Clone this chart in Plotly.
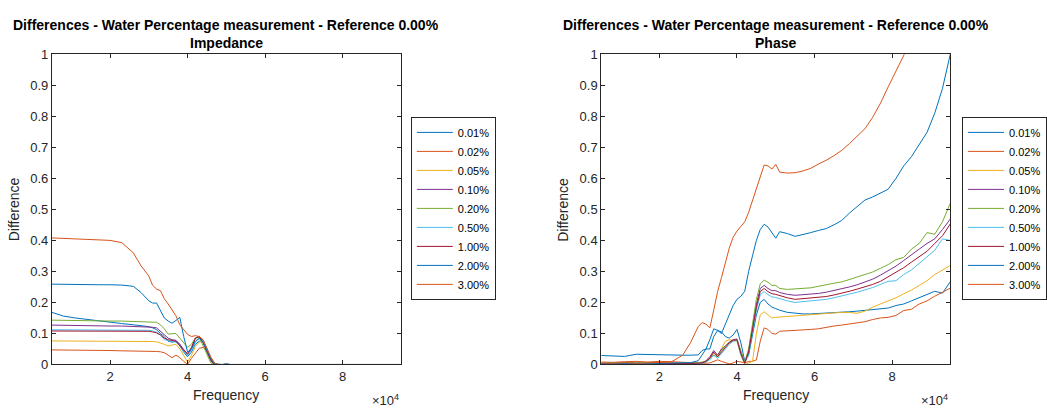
import plotly.graph_objects as go

freq = [5000, 8000, 11000, 14000, 17000, 20000, 23000, 26000, 28000,
        30000, 31000, 32000, 33000, 34000, 35000, 36000, 37000, 38000, 39000,
        40000, 41000, 42000, 43000, 44000, 45000, 46000, 47000, 48000, 49000,
        50000, 51000, 53000, 55000, 57000, 59000, 61000, 63000, 65000, 67000,
        69000, 71000, 73000, 75000, 77000, 79000, 81000, 83000, 85000, 87000,
        89000, 91000, 93000, 95000]

labels = ["0.01%", "0.02%", "0.05%", "0.10%", "0.20%", "0.50%", "1.00%", "2.00%", "3.00%"]
colors = ["#0072BD", "#D95319", "#EDB120", "#7E2F8E", "#77AC30", "#4DBEEE", "#A2142F", "#0072BD", "#D95319"]

Z26 = [0.0] * 26  # 48k .. 95k (26 points)

# ---------------- Impedance ----------------
imp_001 = [0.168, 0.156, 0.150, 0.145, 0.140, 0.137, 0.132, 0.128, 0.125,
           0.122, 0.118, 0.112, 0.100, 0.090, 0.075, 0.072, 0.075, 0.065, 0.040,
           0.025, 0.040, 0.065, 0.075, 0.075, 0.050, 0.020, 0.003,
           0.0, 0.0, 0.003, 0.0] + [0.0] * 22
imp_002 = [0.047, 0.047, 0.046, 0.046, 0.045, 0.045, 0.044, 0.044, 0.043,
           0.043, 0.043, 0.042, 0.041, 0.038, 0.030, 0.022, 0.030, 0.022, 0.010,
           0.000, 0.020, 0.035, 0.052, 0.055, 0.045, 0.020, 0.0] + Z26
imp_005 = [0.076, 0.076, 0.076, 0.075, 0.075, 0.075, 0.075, 0.074, 0.074,
           0.074, 0.074, 0.073, 0.070, 0.065, 0.060, 0.062, 0.065, 0.050, 0.030,
           0.008, 0.030, 0.058, 0.072, 0.075, 0.050, 0.010, 0.0] + Z26
imp_010 = [0.127, 0.126, 0.126, 0.125, 0.125, 0.124, 0.124, 0.123, 0.123,
           0.122, 0.120, 0.118, 0.108, 0.095, 0.085, 0.080, 0.078, 0.065, 0.048,
           0.032, 0.050, 0.085, 0.091, 0.070, 0.040, 0.012, 0.0] + Z26
imp_020 = [0.143, 0.142, 0.142, 0.141, 0.141, 0.140, 0.140, 0.139, 0.139,
           0.138, 0.137, 0.136, 0.128, 0.115, 0.098, 0.100, 0.100, 0.085, 0.070,
           0.055, 0.065, 0.085, 0.088, 0.060, 0.030, 0.005, 0.0] + Z26
imp_050 = [0.112, 0.112, 0.112, 0.111, 0.111, 0.111, 0.111, 0.110, 0.110,
           0.110, 0.108, 0.104, 0.097, 0.080, 0.077, 0.075, 0.072, 0.060, 0.040,
           0.030, 0.045, 0.072, 0.083, 0.078, 0.050, 0.020, 0.0] + Z26
imp_100 = [0.108, 0.108, 0.108, 0.108, 0.108, 0.108, 0.108, 0.107, 0.107,
           0.107, 0.105, 0.102, 0.095, 0.085, 0.080, 0.078, 0.075, 0.060, 0.045,
           0.035, 0.055, 0.085, 0.090, 0.072, 0.045, 0.015, 0.0] + Z26
imp_200 = [0.259, 0.258, 0.258, 0.257, 0.257, 0.257, 0.256, 0.252, 0.232,
           0.205, 0.198, 0.198, 0.175, 0.150, 0.140, 0.133, 0.142, 0.152, 0.090,
           0.040, 0.050, 0.075, 0.085, 0.072, 0.045, 0.018, 0.002] + Z26
imp_300 = [0.408, 0.406, 0.404, 0.403, 0.401, 0.400, 0.393, 0.360, 0.318,
           0.285, 0.255, 0.243, 0.238, 0.212, 0.195, 0.176, 0.157, 0.128, 0.112,
           0.097, 0.090, 0.093, 0.090, 0.080, 0.052, 0.024, 0.004] + Z26

# ---------------- Phase ----------------
ph_001 = [0.029, 0.028, 0.026, 0.033, 0.032, 0.030, 0.030, 0.030, 0.030,
          0.031, 0.045, 0.050, 0.080, 0.115, 0.110, 0.105, 0.090, 0.085, 0.095,
          0.113, 0.070, 0.010, 0.030, 0.090, 0.160, 0.200, 0.210, 0.195, 0.185,
          0.180, 0.175, 0.168, 0.165, 0.163, 0.163, 0.164, 0.165, 0.167, 0.169,
          0.170, 0.172, 0.174, 0.176, 0.178, 0.182, 0.190, 0.195, 0.205, 0.215,
          0.225, 0.236, 0.230, 0.267]
ph_002 = [0.008, 0.007, 0.009, 0.010, 0.008, 0.010, 0.009, 0.008, 0.006,
          0.004, 0.003, 0.004, 0.005, 0.010, 0.015, 0.010, 0.005, 0.002, 0.005,
          0.010, 0.008, 0.005, 0.010, 0.010, 0.015, 0.075, 0.118, 0.113, 0.100,
          0.098, 0.107, 0.108, 0.109, 0.111, 0.113, 0.115, 0.120, 0.124, 0.127,
          0.130, 0.135, 0.138, 0.145, 0.150, 0.152, 0.158, 0.174, 0.178, 0.195,
          0.205, 0.220, 0.232, 0.246]
ph_005 = [0.004, 0.003, 0.005, 0.004, 0.003, 0.005, 0.004, 0.003, 0.004,
          0.005, 0.006, 0.010, 0.020, 0.035, 0.030, 0.050, 0.075, 0.080, 0.078,
          0.075, 0.030, 0.000, 0.005, 0.010, 0.100, 0.160, 0.170, 0.160, 0.150,
          0.152, 0.153, 0.156, 0.158, 0.160, 0.162, 0.164, 0.165, 0.167, 0.168,
          0.168, 0.165, 0.172, 0.185, 0.195, 0.205, 0.215, 0.228, 0.240, 0.255,
          0.270, 0.290, 0.305, 0.319]
ph_010 = [0.003, 0.004, 0.005, 0.003, 0.004, 0.006, 0.004, 0.003, 0.004,
          0.004, 0.006, 0.012, 0.025, 0.045, 0.030, 0.050, 0.060, 0.072, 0.080,
          0.082, 0.040, 0.005, 0.045, 0.120, 0.195, 0.245, 0.255, 0.245, 0.238,
          0.238, 0.232, 0.226, 0.223, 0.225, 0.226, 0.229, 0.233, 0.238, 0.244,
          0.250, 0.257, 0.265, 0.275, 0.288, 0.302, 0.317, 0.335, 0.355, 0.372,
          0.390, 0.405, 0.435, 0.469]
ph_020 = [0.004, 0.005, 0.004, 0.006, 0.005, 0.004, 0.005, 0.004, 0.005,
          0.005, 0.008, 0.010, 0.020, 0.030, 0.025, 0.045, 0.060, 0.070, 0.078,
          0.080, 0.045, 0.008, 0.050, 0.130, 0.210, 0.260, 0.272, 0.265, 0.255,
          0.255, 0.245, 0.242, 0.243, 0.245, 0.247, 0.252, 0.258, 0.262, 0.266,
          0.274, 0.280, 0.288, 0.298, 0.310, 0.322, 0.338, 0.345, 0.372, 0.390,
          0.425, 0.420, 0.460, 0.520]
ph_050 = [0.002, 0.003, 0.002, 0.004, 0.003, 0.002, 0.003, 0.002, 0.002,
          0.002, 0.004, 0.008, 0.015, 0.030, 0.020, 0.035, 0.050, 0.065, 0.075,
          0.078, 0.030, 0.003, 0.035, 0.100, 0.175, 0.225, 0.235, 0.225, 0.218,
          0.216, 0.212, 0.205, 0.200, 0.202, 0.204, 0.206, 0.210, 0.215, 0.220,
          0.227, 0.233, 0.240, 0.248, 0.258, 0.268, 0.270, 0.290, 0.305, 0.325,
          0.345, 0.368, 0.405, 0.400]
ph_100 = [0.003, 0.002, 0.003, 0.002, 0.004, 0.003, 0.002, 0.003, 0.003,
          0.003, 0.005, 0.010, 0.020, 0.040, 0.025, 0.040, 0.055, 0.070, 0.078,
          0.080, 0.035, 0.004, 0.040, 0.110, 0.185, 0.235, 0.245, 0.235, 0.228,
          0.226, 0.222, 0.215, 0.210, 0.212, 0.213, 0.215, 0.219, 0.224, 0.229,
          0.236, 0.243, 0.250, 0.258, 0.268, 0.282, 0.297, 0.312, 0.330, 0.348,
          0.365, 0.390, 0.415, 0.453]
ph_200 = [0.003, 0.004, 0.003, 0.004, 0.003, 0.004, 0.004, 0.004, 0.006,
          0.012, 0.030, 0.050, 0.050, 0.090, 0.110, 0.100, 0.130, 0.160, 0.190,
          0.210, 0.220, 0.236, 0.300, 0.350, 0.400, 0.435, 0.452, 0.443, 0.425,
          0.407, 0.428, 0.422, 0.413, 0.418, 0.425, 0.432, 0.438, 0.450, 0.464,
          0.488, 0.510, 0.530, 0.540, 0.552, 0.565, 0.600, 0.640, 0.670, 0.710,
          0.748, 0.810, 0.890, 1.000]
ph_300 = [0.005, 0.004, 0.006, 0.004, 0.005, 0.006, 0.008, 0.030, 0.070,
          0.122, 0.135, 0.130, 0.118, 0.175, 0.235, 0.280, 0.330, 0.375, 0.410,
          0.430, 0.445, 0.460, 0.490, 0.528, 0.570, 0.605, 0.643, 0.640, 0.630,
          0.645, 0.620, 0.617, 0.618, 0.624, 0.632, 0.646, 0.658, 0.673, 0.690,
          0.712, 0.735, 0.760, 0.797, 0.842, 0.895, 0.945, 0.995, 1.050, 1.100,
          1.150, 1.200, 1.250, 1.300]

imp_series = [imp_001, imp_002, imp_005, imp_010, imp_020, imp_050, imp_100, imp_200, imp_300]
ph_series = [ph_001, ph_002, ph_005, ph_010, ph_020, ph_050, ph_100, ph_200, ph_300]

x_tickvals = [20000, 40000, 60000, 80000]
x_ticktext = ["2", "4", "6", "8"]
y_tickvals = [0, 0.1, 0.2, 0.3, 0.4, 0.5, 0.6, 0.7, 0.8, 0.9, 1]
y_ticktext = ["0", "0.1", "0.2", "0.3", "0.4", "0.5", "0.6", "0.7", "0.8", "0.9", "1"]

W, H = 1047, 412
FONT = "Liberation Sans, Arial, Helvetica, sans-serif"
AX = "#262626"

fig = go.Figure()
for name, ys, c in zip(labels, imp_series, colors):
    fig.add_trace(go.Scatter(x=freq, y=ys, mode="lines", name=name,
                             line=dict(color=c, width=1), xaxis="x", yaxis="y",
                             legend="legend"))
for name, ys, c in zip(labels, ph_series, colors):
    fig.add_trace(go.Scatter(x=freq, y=ys, mode="lines", name=name,
                             line=dict(color=c, width=1), xaxis="x2", yaxis="y2",
                             legend="legend2"))

def px_x(p):
    return p / W

def px_y(p):
    return 1 - p / H

L1, R1 = 52, 402
L2, R2 = 603, 953
TOP, BOT = 49, 371

xcommon = dict(range=[5000, 95000], tickvals=x_tickvals, ticktext=x_ticktext,
               showline=True, linecolor=AX, linewidth=1, mirror="ticks",
               ticks="inside", ticklen=4, tickcolor=AX, showgrid=False, zeroline=False,
               tickfont=dict(family=FONT, size=13, color=AX))
ycommon = dict(range=[0, 1], tickvals=y_tickvals, ticktext=y_ticktext,
               showline=True, linecolor=AX, linewidth=1, mirror="ticks",
               ticks="inside", ticklen=4, tickcolor=AX, showgrid=False, zeroline=False,
               tickfont=dict(family=FONT, size=13, color=AX))

legcommon = dict(yanchor="middle", xanchor="left", bordercolor=AX, borderwidth=1,
                 bgcolor="white", font=dict(family=FONT, size=11, color="#000000"),
                 tracegroupgap=0, itemwidth=36)

fig.update_layout(
    width=W, height=H, margin=dict(l=0, r=0, t=0, b=0),
    paper_bgcolor="white", plot_bgcolor="white",
    font=dict(family=FONT, color=AX),
    xaxis=dict(domain=[px_x(L1), px_x(R1)], anchor="y", **xcommon),
    yaxis=dict(domain=[px_y(BOT), px_y(TOP)], anchor="x", **ycommon),
    xaxis2=dict(domain=[px_x(L2), px_x(R2)], anchor="y2", **xcommon),
    yaxis2=dict(domain=[px_y(BOT), px_y(TOP)], anchor="x2", **ycommon),
    legend=dict(x=px_x(412), y=px_y(209), **legcommon),
    legend2=dict(x=px_x(965), y=px_y(209), **legcommon),
    showlegend=True,
)

ann = []
for (l, r, sub) in [(L1, R1, "Impedance"), (L2, R2, "Phase")]:
    cx = px_x((l + r) / 2)
    ann.append(dict(x=cx, y=px_y(19), xref="paper", yref="paper", showarrow=False,
                    text="<b>Differences - Water Percentage measurement - Reference 0.00%</b>",
                    font=dict(family=FONT, size=14, color="#000000"), xanchor="center", yanchor="middle"))
    ann.append(dict(x=cx, y=px_y(37), xref="paper", yref="paper", showarrow=False,
                    text="<b>" + sub + "</b>",
                    font=dict(family=FONT, size=14, color="#000000"), xanchor="center", yanchor="middle"))
    ann.append(dict(x=cx, y=px_y(403), xref="paper", yref="paper", showarrow=False,
                    text="Frequency", font=dict(family=FONT, size=14, color=AX),
                    xanchor="center", yanchor="middle"))
    ann.append(dict(x=px_x(r), y=px_y(408), xref="paper", yref="paper", showarrow=False,
                    text="\u00d710<sup>4</sup>", font=dict(family=FONT, size=13, color=AX),
                    xanchor="right", yanchor="middle"))
    ann.append(dict(x=px_x(l - 38), y=px_y((TOP + BOT) / 2), xref="paper", yref="paper",
                    showarrow=False, text="Difference", textangle=-90,
                    font=dict(family=FONT, size=14, color=AX),
                    xanchor="center", yanchor="middle"))
fig.update_layout(annotations=ann)

fig.write_html("out.html")
